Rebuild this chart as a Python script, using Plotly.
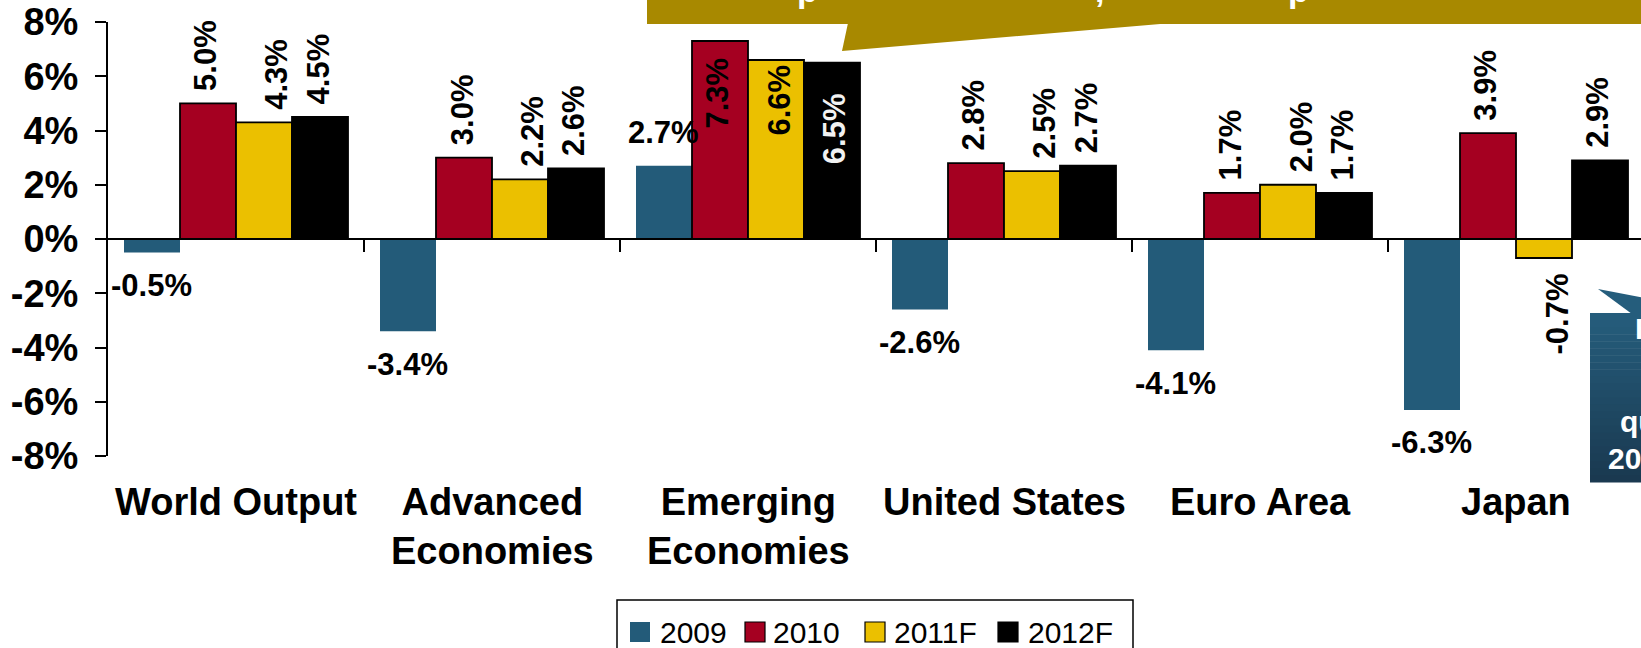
import plotly.graph_objects as go

# ---- data -------------------------------------------------------------
categories = ["World Output", "Advanced<br>Economies", "Emerging<br>Economies",
              "United States", "Euro Area", "Japan"]
series_names = ["2009", "2010", "2011F", "2012F"]
g2009 = [-0.5, -3.4, 2.7, -2.6, -4.1, -6.3]
g2010 = [5.0, 3.0, 7.3, 2.8, 1.7, 3.9]
g2011f = [4.3, 2.2, 6.6, 2.5, 2.0, -0.7]
g2012f = [4.5, 2.6, 6.5, 2.7, 1.7, 2.9]
tick_values = [-8, -6, -4, -2, 0, 2, 4, 6, 8]
tick_labels = ["-8%", "-6%", "-4%", "-2%", "0%", "2%", "4%", "6%", "8%"]

# ---- style ------------------------------------------------------------
FONT = "Arial, Liberation Sans, sans-serif"
COLORS = ["#235B79", "#A50021", "#EBC000", "#000000"]
OUTLINE = [0, 1.8, 1.8, 1.8]
GOLD = "#A88900"
W, H = 1641, 648
PL, PT, PW, PH = 108, 22, 1533, 434   # plot area in pixels
BARGAP = 0.125
BAR_W = (1 - BARGAP) / 4


def fx(px):
    return (px - PL) / PW


def fy(py):
    return (PT + PH - py) / PH


series_vals = [g2009, g2010, g2011f, g2012f]

fig = go.Figure()
for name, vals, col, lw in zip(series_names, series_vals, COLORS, OUTLINE):
    fig.add_trace(go.Bar(
        name=name, x=list(range(len(categories))), y=vals,
        marker=dict(color=col, line=dict(color="#000000", width=lw)),
        showlegend=False, hoverinfo="skip",
    ))

annotations = []

# value labels
XSHIFT = {"2010": -2, "2011F": 13, "2012F": -2}
# labels placed inside the tallest bars: (drop below bar top px, xshift, colour)
INSIDE = {("2010", 2): (15, -3, "#000000"),
          ("2011F", 2): (3, 3, "#000000"),
          ("2012F", 2): (29, 2, "#F2F2F2")}
for s_idx, (name, vals) in enumerate(zip(series_names, series_vals)):
    for c_idx, v in enumerate(vals):
        xpos = c_idx + (s_idx - 1.5) * BAR_W
        label = f"{v:.1f}%"
        base = dict(x=xpos, y=v, xref="x", yref="y", text=label, showarrow=False,
                    font=dict(family=FONT, size=31, color="#000000", weight="bold"))
        if name == "2009":
            base.update(xanchor="center", yanchor="middle",
                        yshift=33 if v > 0 else -33, xshift=-1)
        elif (name, c_idx) in INSIDE:
            drop, xs, fc = INSIDE[(name, c_idx)]
            base.update(textangle=-90, xanchor="center", yanchor="top",
                        yshift=-drop, xshift=xs)
            base["font"]["color"] = fc
        elif v >= 0:
            base.update(textangle=-90, xanchor="center", yanchor="bottom",
                        yshift=10, xshift=XSHIFT[name])
        else:
            base.update(textangle=-90, xanchor="center", yanchor="top",
                        yshift=-14, xshift=XSHIFT[name])
        annotations.append(base)

# category labels below the plot
for c_idx, cat in enumerate(categories):
    annotations.append(dict(
        x=c_idx, y=fy(479), xref="x", yref="paper", text=cat, showarrow=False,
        xanchor="center", yanchor="top", align="center",
        font=dict(family=FONT, size=38, color="#000000", weight="bold")))

shapes = []

# legend box with swatches
shapes.append(dict(type="rect", xref="paper", yref="paper",
                   x0=fx(617), x1=fx(1133), y0=fy(600), y1=fy(655),
                   line=dict(color="#000000", width=1.5), fillcolor="rgba(0,0,0,0)"))
swatch_x = [630, 745, 865, 998]
text_x = [658, 771, 892, 1026]
for name, col, lw, sx, tx in zip(series_names, COLORS, OUTLINE, swatch_x, text_x):
    shapes.append(dict(type="rect", xref="paper", yref="paper",
                       x0=fx(sx), x1=fx(sx + 20), y0=fy(642), y1=fy(622),
                       fillcolor=col, line=dict(color="#000000", width=1.2 if lw else 0)))
    annotations.append(dict(x=fx(tx), y=fy(632), xref="paper", yref="paper",
                            text=name, showarrow=False, xanchor="left", yanchor="middle",
                            font=dict(family=FONT, size=30, color="#000000")))

# gold speech banner at the top
shapes.append(dict(type="rect", xref="paper", yref="paper",
                   x0=fx(647), x1=fx(1650), y0=fy(24), y1=fy(-10),
                   fillcolor=GOLD, line=dict(width=0), layer="above"))
shapes.append(dict(type="path", xref="paper", yref="paper",
                   path=(f"M{fx(848)},{fy(23)} L{fx(842)},{fy(51)} "
                         f"L{fx(1172)},{fy(23)} Z"),
                   fillcolor=GOLD, line=dict(width=0), layer="above"))
for txt, tx in [("p", 795), (",", 1093), ("p", 1286)]:
    annotations.append(dict(x=fx(tx), y=fy(-10), xref="paper", yref="paper", text=txt,
                            showarrow=False, xanchor="left", yanchor="middle",
                            font=dict(family=FONT, size=34, color="#FFFFFF", weight="bold")))

# teal callout on the right (vertical gradient built from bands)
top_rgb, bot_rgb = (37, 93, 124), (26, 57, 80)
y_top, y_bot, n_band = 313, 482, 24
for k in range(n_band):
    t = k / (n_band - 1)
    c = tuple(round(a + (b - a) * t) for a, b in zip(top_rgb, bot_rgb))
    y0 = y_top + (y_bot - y_top) * k / n_band
    y1 = y_top + (y_bot - y_top) * (k + 1) / n_band
    shapes.append(dict(type="rect", xref="paper", yref="paper",
                       x0=fx(1590), x1=fx(1650), y0=fy(y1 + 0.5), y1=fy(y0),
                       fillcolor=f"rgb{c}", line=dict(width=0), layer="above"))
shapes.append(dict(type="path", xref="paper", yref="paper",
                   path=(f"M{fx(1598)},{fy(289)} L{fx(1650)},{fy(299)} "
                         f"L{fx(1650)},{fy(314)} L{fx(1632)},{fy(314)} Z"),
                   fillcolor="rgb(37,93,124)", line=dict(width=0), layer="above"))
for txt, tx, ty in [("Effect", 1633, 328), ("quake", 1618, 421), ("2011", 1606, 458)]:
    annotations.append(dict(x=fx(tx), y=fy(ty), xref="paper", yref="paper", text=txt,
                            showarrow=False, xanchor="left", yanchor="middle",
                            font=dict(family=FONT, size=30, color="#FFFFFF", weight="bold")))

fig.update_layout(
    width=W, height=H,
    margin=dict(l=PL, r=W - PL - PW, t=PT, b=H - PT - PH, pad=0),
    paper_bgcolor="#FFFFFF", plot_bgcolor="#FFFFFF",
    barmode="group", bargap=BARGAP, bargroupgap=0,
    showlegend=False,
    xaxis=dict(type="linear", range=[-0.5, -0.5 + PW / 256], anchor="free", position=0.5,
               showline=True, linecolor="#000000", linewidth=2,
               tickmode="array", tickvals=[c + 0.5 for c in range(len(categories))],
               ticks="outside", ticklen=12, tickwidth=2, tickcolor="#000000",
               showticklabels=False, showgrid=False, zeroline=False),
    yaxis=dict(range=[-8, 8], tickmode="array", tickvals=tick_values, ticktext=tick_labels,
               showline=True, linecolor="#000000", linewidth=2,
               ticks="outside", ticklen=11, tickwidth=2, tickcolor="#000000",
               ticklabelstandoff=9,
               tickfont=dict(family=FONT, size=38, color="#000000", weight="bold"),
               showgrid=False, zeroline=False),
    annotations=annotations,
    shapes=shapes,
)

fig.write_html("out.html")
